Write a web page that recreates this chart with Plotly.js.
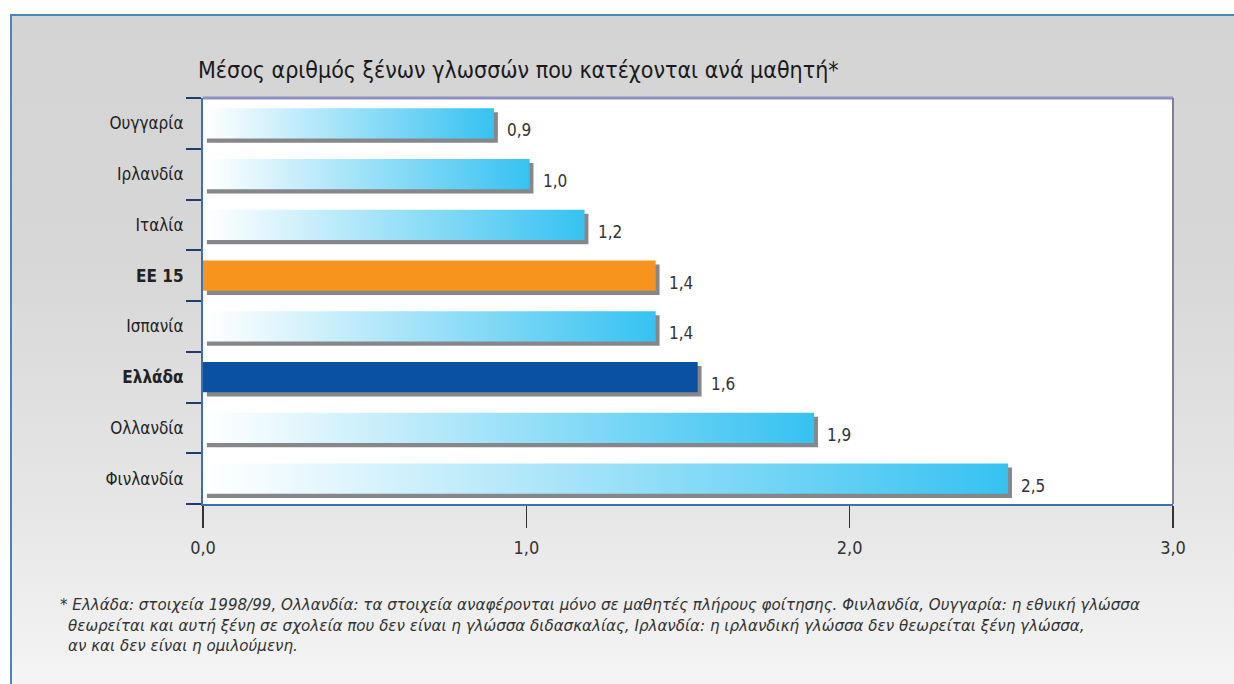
<!DOCTYPE html>
<html><head><meta charset="utf-8">
<script src="https://cdn.plot.ly/plotly-3.0.1.min.js"></script>
<style>
html,body{margin:0;padding:0;background:#fff;}
#wrap{position:relative;width:1234px;height:684px;overflow:hidden;background:#fff;}
#frame{position:absolute;left:10px;top:14px;width:1240px;height:700px;border-top:2px solid #4a86b8;border-left:2px solid #4a86b8;background:linear-gradient(180deg,#d4d4d4 0%,#d7d7d7 35%,#e6e6e6 70%,#f7f7f7 100%);}
#chart{position:absolute;left:0;top:0;width:1234px;height:684px;}
</style></head><body>
<div id="wrap"><div id="frame"></div><div id="chart"></div></div>
<script>
// ---- data ----
const countries = ['Ουγγαρία','Ιρλανδία','Ιταλία','ΕΕ 15','Ισπανία','Ελλάδα','Ολλανδία','Φινλανδία'];
// bar lengths as drawn in the picture
const barLengths = [0.9, 1.01, 1.18, 1.4, 1.4, 1.53, 1.89, 2.49];
// values as printed next to the bars
const valueLabels = ['0,9', '1,0', '1,2', '1,4', '1,4', '1,6', '1,9', '2,5'];
const highlight = ['', '', '', 'eu', '', 'gr', '', ''];
const xTickVals = [0, 1, 2, 3];
const titleText = 'Μέσος αριθμός ξένων γλωσσών που κατέχονται ανά μαθητή*';
const footnoteLines = [
  '* Ελλάδα: στοιχεία 1998/99, Ολλανδία: τα στοιχεία αναφέρονται μόνο σε μαθητές πλήρους φοίτησης. Φινλανδία, Ουγγαρία: η εθνική γλώσσα',
  'θεωρείται και αυτή ξένη σε σχολεία που δεν είναι η γλώσσα διδασκαλίας, Ιρλανδία: η ιρλανδική γλώσσα δεν θεωρείται ξένη γλώσσα,',
  'αν και δεν είναι η ομιλούμενη.'
];

// ---- styles ----
const NARROW = '"DejaVu Sans Condensed", "Liberation Sans Narrow", sans-serif';
const ITAL = '"DejaVu Sans", "Liberation Sans", sans-serif';
const colorFor = {eu: '#f7941d', gr: '#0a50a3', '': '#3cc3f0'};
const barColors = highlight.map(h => colorFor[h]);
const tickText = countries.map((c, i) => highlight[i] ? '<b>' + c + '</b>' : c);

const shadow = {
  type: 'bar', orientation: 'h', y: countries, x: barLengths, base: 0.012,
  width: 0.6, offset: -0.22,
  marker: {color: 'rgba(95,95,100,0.75)', line: {width: 0}},
  hoverinfo: 'skip', showlegend: false
};
const bars = {
  type: 'bar', orientation: 'h', y: countries, x: barLengths,
  width: 0.6, offset: -0.3,
  marker: {color: barColors, line: {width: 0}},
  hoverinfo: 'skip', showlegend: false
};

const annotations = countries.map((c, i) => ({
  x: barLengths[i], y: c, xref: 'x', yref: 'y',
  text: valueLabels[i],
  showarrow: false, xanchor: 'left', yanchor: 'middle', xshift: 11, yshift: -7,
  font: {family: NARROW, size: 17, color: '#333'}
}));
const footY = [605, 626, 646];
footnoteLines.forEach((t, i) => {
  annotations.push({
    xref: 'paper', yref: 'paper',
    x: (i === 0 ? 58 - 203 : 66 - 203) / 970, y: (504 - footY[i]) / 406,
    text: t, showarrow: false, xanchor: 'left', yanchor: 'middle',
    font: {family: ITAL, size: 15.1, color: '#333', style: 'italic'}
  });
});

const layout = {
  width: 1234, height: 684,
  margin: {l: 203, r: 61, t: 98, b: 180},
  paper_bgcolor: 'rgba(0,0,0,0)', plot_bgcolor: '#ffffff',
  separators: ', ',
  barmode: 'overlay',
  title: {
    text: titleText, xref: 'container', yref: 'container',
    x: 198 / 1234, xanchor: 'left', y: 1 - 70 / 684, yanchor: 'middle',
    font: {family: NARROW, size: 23, color: '#1a1a1a'}
  },
  xaxis: {
    range: [0, 3], tickmode: 'array', tickvals: xTickVals, tickformat: '.1f',
    ticks: 'outside', ticklen: 22, tickwidth: 1.5, tickcolor: '#333',
    showline: true, linecolor: '#3d6fb5', linewidth: 2,
    showgrid: false, zeroline: false, ticklabelstandoff: 4,
    tickfont: {family: NARROW, size: 18, color: '#333'}
  },
  yaxis: {
    type: 'category', categoryorder: 'array', categoryarray: countries,
    range: [7.5, -0.5], tickmode: 'array', tickvals: countries, ticktext: tickText,
    tickson: 'boundaries', ticks: 'outside', ticklen: 15, tickwidth: 2, tickcolor: '#1d3d6e',
    showline: true, linecolor: '#3d6fb5', linewidth: 2, showgrid: false, zeroline: false,
    ticklabelstandoff: 14,
    tickfont: {family: NARROW, size: 17, color: '#222'}
  },
  shapes: [
    {type: 'line', xref: 'paper', yref: 'paper', x0: 0, x1: 1, y0: 1, y1: 1, line: {color: '#8d8fc2', width: 3}},
    {type: 'line', xref: 'paper', yref: 'paper', x0: 1, x1: 1, y0: 0, y1: 1, line: {color: '#7e8098', width: 2}}
  ],
  annotations: annotations
};

Plotly.newPlot('chart', [shadow, bars], layout, {staticPlot: true, displayModeBar: false}).then(gd => {
  const ns = 'http://www.w3.org/2000/svg';
  const svg = gd.querySelector('svg.main-svg');
  let defs = svg.querySelector('defs');
  if (!defs) { defs = document.createElementNS(ns, 'defs'); svg.insertBefore(defs, svg.firstChild); }
  const lg = document.createElementNS(ns, 'linearGradient');
  lg.setAttribute('id', 'barGrad');
  lg.setAttribute('x1', '0'); lg.setAttribute('y1', '0'); lg.setAttribute('x2', '1'); lg.setAttribute('y2', '0');
  [['0', '#ffffff'], ['0.08', '#f2fbfe'], ['1', '#36c2f1']].forEach(s => {
    const st = document.createElementNS(ns, 'stop');
    st.setAttribute('offset', s[0]); st.setAttribute('stop-color', s[1]);
    lg.appendChild(st);
  });
  defs.appendChild(lg);
  const traces = gd.querySelectorAll('.barlayer .trace');
  const main = traces[traces.length - 1];
  main.querySelectorAll('.point path').forEach((p, i) => {
    if (!highlight[i]) p.style.fill = 'url(#barGrad)';
  });
});
</script>
</body></html>
